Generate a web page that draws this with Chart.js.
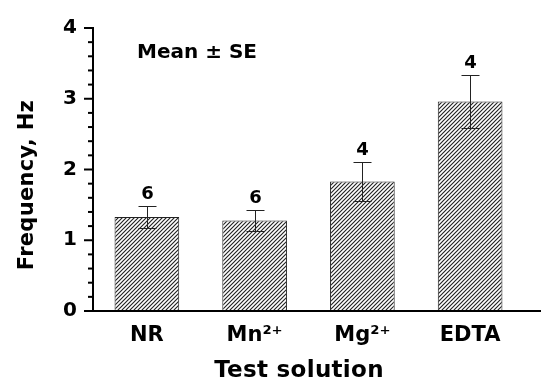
<!DOCTYPE html>
<html>
<head>
<meta charset="utf-8">
<script src="https://cdn.jsdelivr.net/npm/chart.js@4"></script>
<style>
    body { margin: 0; background: #fff; }
    #wrap { width: 541px; height: 383px; position: relative; }
</style>
</head>
<body>
<div id="wrap"><canvas id="chart"></canvas></div>
<script>
// Data
const categories = ["NR", "Mn²⁺", "Mg²⁺", "EDTA"];
const meanValues = [1.33, 1.28, 1.83, 2.96];
const seValues = [0.16, 0.15, 0.28, 0.38];
const nLabels = ["6", "6", "4", "4"];
const yTickValues = [0, 1, 2, 3, 4];

const FONT = '"DejaVu Sans", sans-serif';

// Hatch pattern for the bars
function makeHatch() {
    const c = document.createElement("canvas");
    c.width = 4;
    c.height = 4;
    const g = c.getContext("2d");
    g.fillStyle = "#fff";
    g.fillRect(0, 0, 4, 4);
    g.strokeStyle = "#222";
    g.lineWidth = 1.15;
    g.beginPath();
    g.moveTo(0, 4); g.lineTo(4, 0);
    g.moveTo(-1, 1); g.lineTo(1, -1);
    g.moveTo(3, 5); g.lineTo(5, 3);
    g.stroke();
    return document.getElementById("chart").getContext("2d").createPattern(c, "repeat");
}

// Axis ticks, error bars and texts
const extrasPlugin = {
    id: "extras",
    afterDraw(chart) {
        const ctx = chart.ctx;
        const xs = chart.scales.x;
        const ys = chart.scales.y;
        const left = chart.chartArea.left;
        ctx.save();
        ctx.strokeStyle = "#000";

        // y ticks (major + minor)
        ctx.lineWidth = 2;
        for (let k = 0; k <= 20; k++) {
            const y = ys.getPixelForValue(k / 5);
            const len = k % 5 === 0 ? 9 : 5;
            ctx.beginPath();
            ctx.moveTo(left - len, y);
            ctx.lineTo(left, y);
            ctx.stroke();
        }

        // x axis line
        const y0 = ys.getPixelForValue(0);
        ctx.beginPath();
        ctx.moveTo(left - 9, y0);
        ctx.lineTo(chart.width, y0);
        ctx.stroke();

        // error bars
        ctx.lineWidth = 1;
        ctx.strokeStyle = "#222";
        ctx.fillStyle = "#000";
        ctx.font = "bold 18px " + FONT;
        ctx.textAlign = "center";
        ctx.textBaseline = "bottom";
        meanValues.forEach((m, i) => {
            const x = Math.round(xs.getPixelForValue(i)) + 0.5;
            const yt = Math.round(ys.getPixelForValue(m + seValues[i])) + 0.5;
            const yb = Math.round(ys.getPixelForValue(m - seValues[i])) + 0.5;
            ctx.beginPath();
            ctx.moveTo(x, yt); ctx.lineTo(x, yb);
            ctx.moveTo(x - 9, yt); ctx.lineTo(x + 9, yt);
            ctx.moveTo(x - 9, yb); ctx.lineTo(x + 9, yb);
            ctx.stroke();
            ctx.fillText(nLabels[i], x, yt - 3);
        });

        // Mean ± SE
        ctx.font = "bold 20px " + FONT;
        ctx.textAlign = "left";
        ctx.textBaseline = "middle";
        ctx.fillText("Mean ± SE", 137, 53);

        // axis titles
        ctx.font = "bold 23px " + FONT;
        ctx.letterSpacing = "0.3px";
        ctx.textAlign = "center";
        ctx.fillText("Test solution", 299, 371);

        ctx.translate(28, 185);
        ctx.rotate(-Math.PI / 2);
        ctx.font = "bold 21px " + FONT;
        ctx.letterSpacing = "0.3px";
        ctx.fillText("Frequency, Hz", 0, 0);
        ctx.restore();
    }
};

const chart = new Chart(document.getElementById("chart"), {
    type: "bar",
    data: {
        labels: categories,
        datasets: [{
            data: meanValues,
            backgroundColor: makeHatch(),
            borderColor: "#222",
            borderWidth: 1,
            barPercentage: 0.6,
            categoryPercentage: 1
        }]
    },
    options: {
        responsive: true,
        maintainAspectRatio: false,
        animation: false,
        devicePixelRatio: 1,
        layout: { padding: { left: 0, top: 24, right: 17, bottom: 0 } },
        plugins: { legend: { display: false }, tooltip: { enabled: false } },
        scales: {
            x: {
                grid: { display: false, drawTicks: false },
                border: { display: false },
                ticks: { color: "#000", padding: 12, font: { family: FONT, size: 21, weight: "bold" } },
                afterFit: s => { s.height = 72; }
            },
            y: {
                min: 0,
                max: 4,
                afterBuildTicks: s => { s.ticks = yTickValues.map(v => ({ value: v })); },
                grid: { display: false, drawTicks: false },
                border: { display: true, color: "#000", width: 2 },
                ticks: { color: "#000", padding: 16, font: { family: FONT, size: 20, weight: "bold" } },
                afterFit: s => { s.width = 93; }
            }
        }
    },
    plugins: [extrasPlugin]
});
</script>
</body>
</html>
